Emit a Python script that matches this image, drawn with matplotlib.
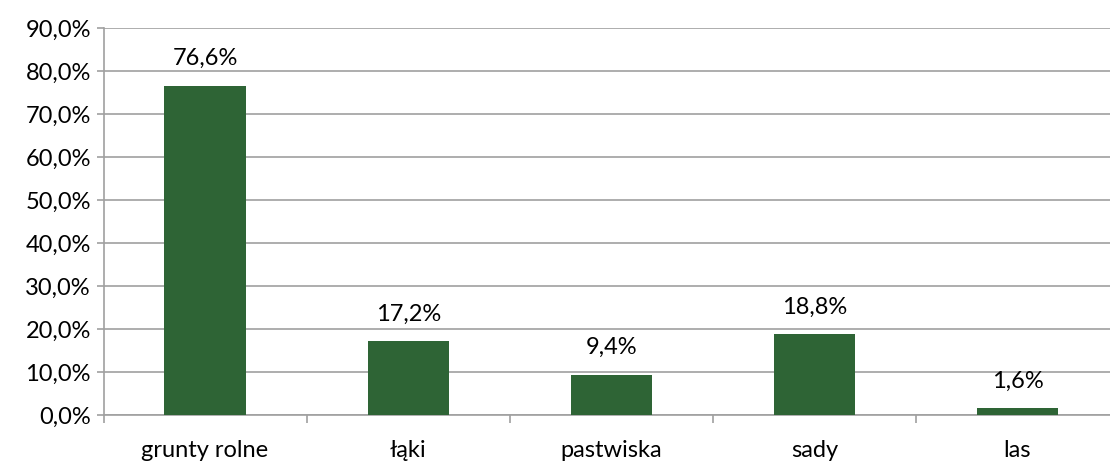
import matplotlib.pyplot as plt
import numpy as np

categories = ['grunty rolne', 'łąki', 'pastwiska', 'sady', 'las']
values = [76.6, 17.2, 9.4, 18.8, 1.6]
yticks = [0, 10, 20, 30, 40, 50, 60, 70, 80, 90]

plt.rcParams['font.family'] = ['Lato', 'DejaVu Sans']

fig = plt.figure(figsize=(11.1, 4.62), dpi=100)
ax = fig.add_axes([103.5 / 1110, 47 / 462, 1015.5 / 1110, 387 / 462])

x = np.arange(len(categories))
ax.bar(x, values, width=0.4, color='#2E6435', zorder=3)

for xi, v in zip(x, values):
    ax.text(xi, v + 3.8, f'{v:.1f}%'.replace('.', ','), ha='center', va='bottom',
            fontsize=17, color='black')

ax.set_xlim(-0.5, len(categories) - 0.5)
ax.set_ylim(0, 90)
ax.set_yticks(yticks)
ax.set_yticklabels([f'{t:.1f}%'.replace('.', ',') for t in yticks], fontsize=17)
ax.yaxis.grid(True, color='#A0A0A0', linewidth=1.2, zorder=0)

ax.set_xticks(x)
ax.set_xticklabels(categories, fontsize=17)
ax.set_xticks(np.arange(len(categories) + 1) - 0.5, minor=True)
ax.tick_params(axis='x', which='major', length=0, pad=18)
ax.tick_params(axis='x', which='minor', length=6, color='#A0A0A0', width=1.2)
ax.tick_params(axis='y', length=5, color='#A0A0A0', width=1.2, pad=4)

for side in ['top', 'right']:
    ax.spines[side].set_visible(False)
for side in ['left', 'bottom']:
    ax.spines[side].set_color('#A0A0A0')
    ax.spines[side].set_linewidth(1.2)

fig.savefig('out.png', dpi=100)
